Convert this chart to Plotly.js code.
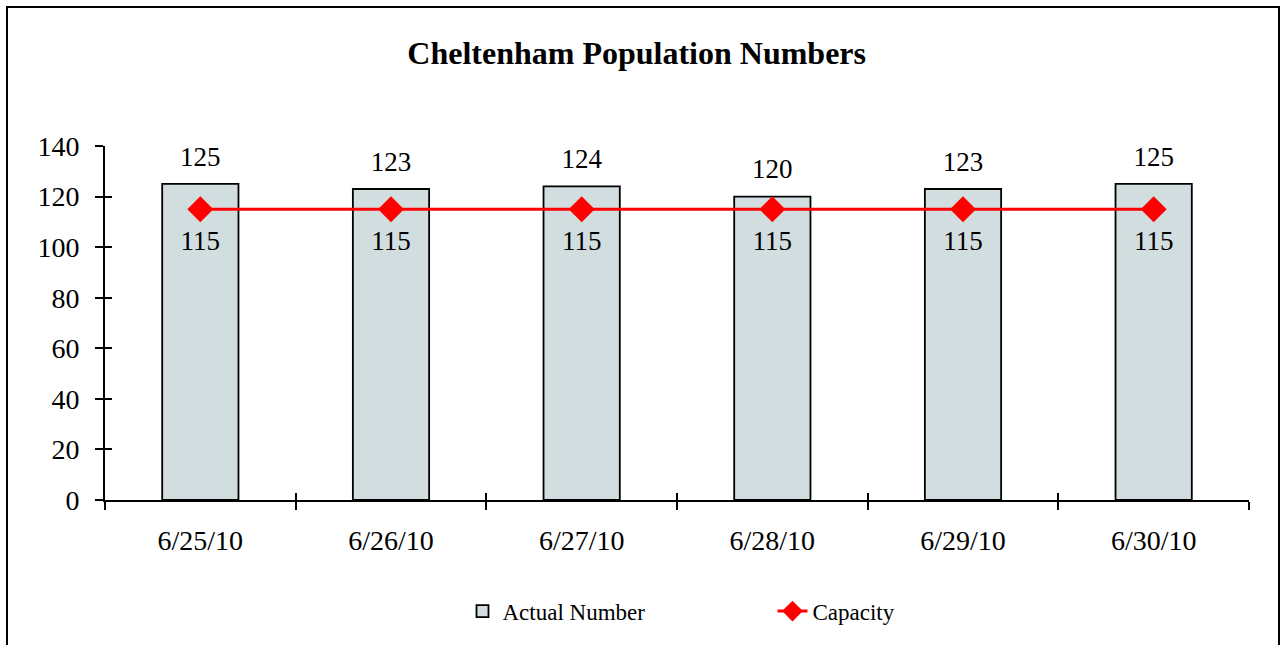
<!DOCTYPE html>
<html>
<head>
<meta charset="utf-8">
<script src="https://cdn.plot.ly/plotly-3.0.1.min.js"></script>
<style>
  html, body { margin: 0; padding: 0; background: #fff; overflow: hidden; }
  #frame { position: absolute; left: 6px; top: 6px; width: 1270px; height: 660px; border: 2px solid #000; }
  #chart { width: 1270px; height: 650px; }
</style>
</head>
<body>
<div id="frame"><div id="chart"></div></div>
<script>
const dates = ["6/25/10", "6/26/10", "6/27/10", "6/28/10", "6/29/10", "6/30/10"];
const actualNumber = [125, 123, 124, 120, 123, 125];
const capacity = [115, 115, 115, 115, 115, 115];
const yTicks = [0, 20, 40, 60, 80, 100, 120, 140];

const serif = "Liberation Serif, Times New Roman, serif";

const traces = [
  {
    type: "bar", name: "Actual Number", x: dates, y: actualNumber,
    marker: { color: "#d1dddf", line: { color: "#000", width: 1.8 } },
    hoverinfo: "x+y"
  },
  {
    type: "scatter", mode: "lines+markers", name: "Capacity", x: dates, y: capacity,
    line: { color: "#ff0000", width: 3 },
    marker: { symbol: "diamond", size: 20, color: "#ff0000" }
  },
  {
    type: "scatter", mode: "text+markers", x: dates, y: actualNumber,
    text: actualNumber.map(String), textposition: "top center",
    marker: { size: 17, opacity: 0 },
    textfont: { family: serif, size: 27, color: "#000" },
    showlegend: false, hoverinfo: "skip", cliponaxis: false
  },
  {
    type: "scatter", mode: "text+markers", x: dates, y: capacity,
    text: capacity.map(String), textposition: "bottom center",
    marker: { size: 32, opacity: 0 },
    textfont: { family: serif, size: 27, color: "#000" },
    showlegend: false, hoverinfo: "skip", cliponaxis: false
  },
  {
    type: "scatter", mode: "markers", x: dates, y: capacity, xaxis: "x2", yaxis: "y2",
    marker: { opacity: 0 }, showlegend: false, hoverinfo: "skip"
  }
];

const layout = {
  width: 1270, height: 650,
  margin: { l: 97, r: 29, t: 138, b: 158 },
  paper_bgcolor: "#fff", plot_bgcolor: "#fff",
  font: { family: serif, color: "#000" },
  title: {
    text: "<b>Cheltenham Population Numbers</b>",
    font: { family: serif, size: 32, color: "#000" },
    x: 0.495, xanchor: "center", y: 1 - 45 / 650, yanchor: "middle"
  },
  bargap: 0.6,
  xaxis: {
    type: "category", range: [-0.5, 5.5],
    showline: true, linecolor: "#000", linewidth: 1.8,
    ticks: "outside", ticklen: 8, tickwidth: 1.8, tickcolor: "#000",
    tickson: "boundaries", showgrid: false, zeroline: false,
    tickfont: { family: serif, size: 28, color: "#000" },
    ticklabelstandoff: 14
  },
  yaxis: {
    range: [0, 140], tickvals: yTicks,
    showline: true, linecolor: "#000", linewidth: 1.8,
    ticks: "outside", ticklen: 8, tickwidth: 1.8, tickcolor: "#000",
    showgrid: false, zeroline: false,
    tickfont: { family: serif, size: 28, color: "#000" },
    ticklabelstandoff: 10
  },
  xaxis2: {
    type: "category", overlaying: "x", range: [-0.5, 5.5],
    ticks: "inside", ticklen: 7, tickwidth: 1.8, tickcolor: "#000",
    tickson: "boundaries", showticklabels: false, showgrid: false, zeroline: false, showline: false
  },
  yaxis2: {
    overlaying: "y", range: [0, 140], tickvals: yTicks,
    ticks: "inside", ticklen: 7, tickwidth: 1.8, tickcolor: "#000",
    showticklabels: false, showgrid: false, zeroline: false, showline: false
  },
  showlegend: true,
  legend: {
    orientation: "h", x: 0.3125, xanchor: "left", y: -0.314, yanchor: "middle",
    font: { family: serif, size: 23, color: "#000" },
    entrywidth: 265, entrywidthmode: "pixels",
    itemclick: false, itemdoubleclick: false
  }
};

Plotly.newPlot("chart", traces, layout, { displayModeBar: false, responsive: false });
</script>
</body>
</html>
